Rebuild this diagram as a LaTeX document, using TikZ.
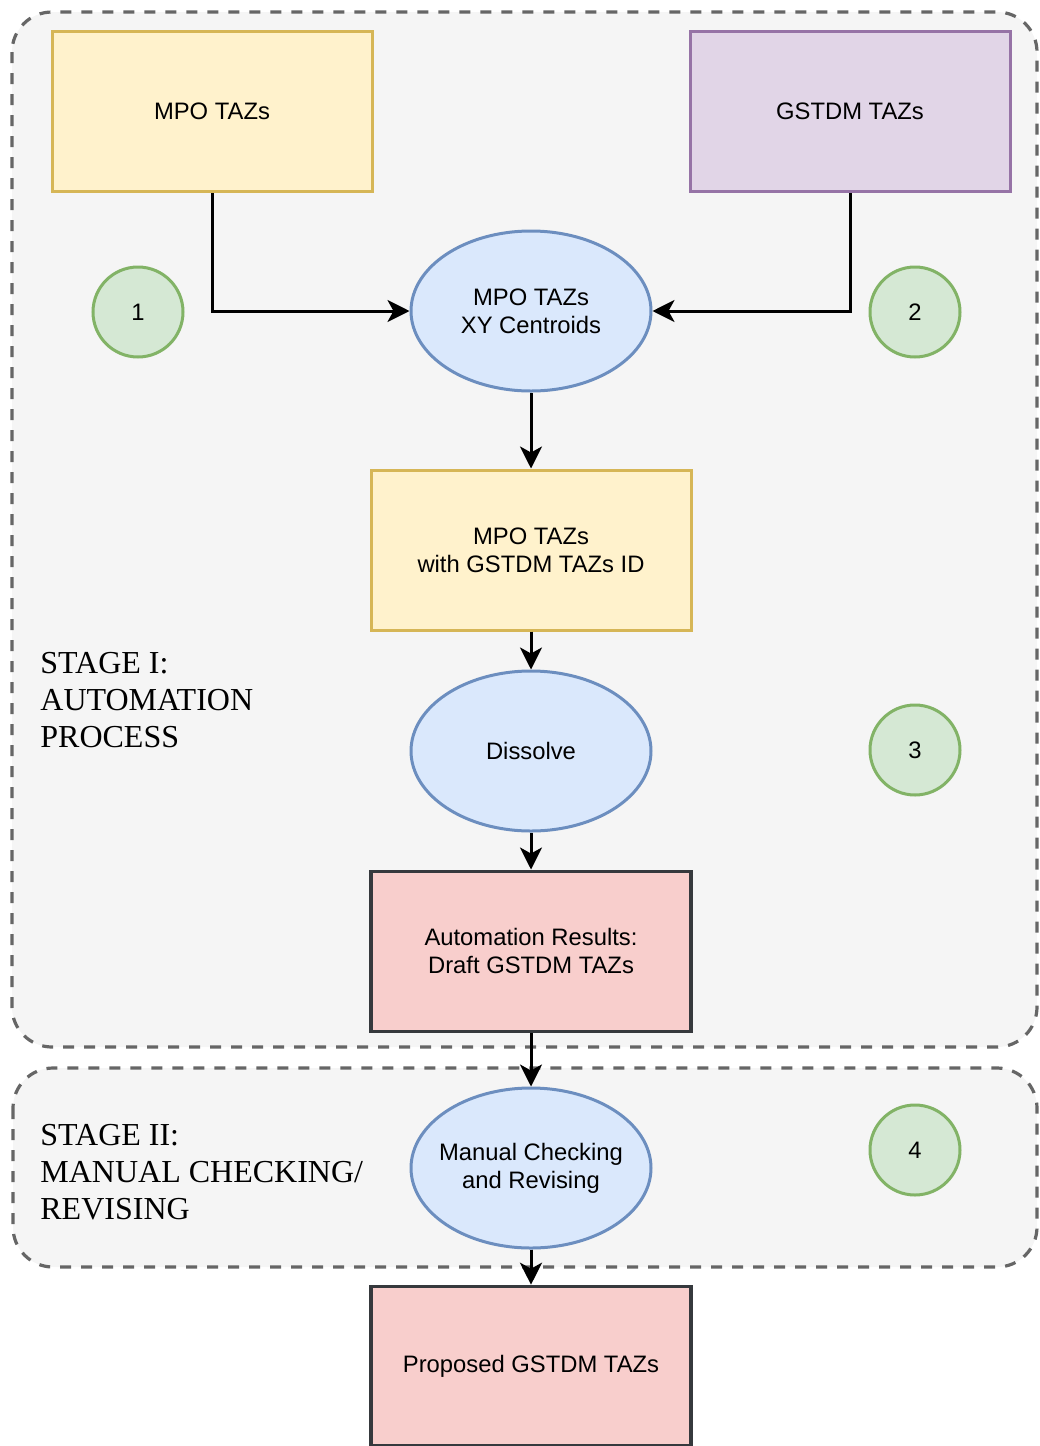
\documentclass[tikz,border=0pt]{standalone}
\usepackage{fontspec}
\setmainfont{Liberation Serif}
\setsansfont{Liberation Sans}
\usetikzlibrary{arrows.meta, positioning, shapes.geometric}

\definecolor{stagefill}{HTML}{F5F5F5}
\definecolor{stageline}{HTML}{666666}
\definecolor{mpofill}{HTML}{FFF2CC}
\definecolor{mpoline}{HTML}{D6B656}
\definecolor{gstdmfill}{HTML}{E1D5E7}
\definecolor{gstdmline}{HTML}{9673A6}
\definecolor{procfill}{HTML}{DAE8FC}
\definecolor{procline}{HTML}{6C8EBF}
\definecolor{numfill}{HTML}{D5E8D4}
\definecolor{numline}{HTML}{82B366}
\definecolor{resfill}{HTML}{F8CECC}
\definecolor{resline}{HTML}{36393D}

\begin{document}
\begin{tikzpicture}[x=0.5pt, y=-0.5pt]

  % Define styles
  \tikzstyle{stage_area} = [draw=stageline, fill=stagefill, line width=1.6pt, dash pattern=on 5.5pt off 5pt, rounded corners=20pt]
  \tikzstyle{stage_label} = [anchor=west, align=left, inner sep=0pt, font=\rmfamily\fontsize{16}{18.5}\selectfont]
  \tikzstyle{box} = [rectangle, draw, line width=1.5pt, minimum width=160pt, minimum height=80pt, align=center, font=\sffamily\fontsize{11.9}{14}\selectfont]
  \tikzstyle{mpo_box} = [box, draw=mpoline, fill=mpofill]
  \tikzstyle{gstdm_box} = [box, draw=gstdmline, fill=gstdmfill]
  \tikzstyle{res_box} = [box, draw=resline, fill=resfill, line width=1.8pt]
  \tikzstyle{proc} = [ellipse, draw=procline, fill=procfill, line width=1.5pt, minimum width=120pt, minimum height=80pt, inner xsep=-4pt, inner ysep=0pt, align=center, font=\sffamily\fontsize{11.9}{14}\selectfont]
  \tikzstyle{num_circle} = [circle, draw=numline, fill=numfill, line width=1.5pt, minimum size=45pt, inner sep=0pt, font=\sffamily\fontsize{11.9}{14}\selectfont]
  \tikzstyle{flow} = [-{Stealth[length=11pt, width=11pt, inset=3pt]}, line width=1.5pt]

  \useasboundingbox (0,0) rectangle (1039,1446);

  % Stage areas
  \path[stage_area] (12,12) rectangle (1037,1047);
  \path[stage_area] (13,1068) rectangle (1037,1267);

  \node[stage_label] (s1) at (40,700) {STAGE I:\\AUTOMATION\\PROCESS};
  \node[stage_label] (s2) at (40,1172) {STAGE II:\\MANUAL CHECKING/\\REVISING};

  % Inputs
  \node[mpo_box] (mpo) at (212,111.5) {MPO TAZs};
  \node[gstdm_box] (gstdm) at (850,111.5) {GSTDM TAZs};

  % Main column
  \node[proc] (cent) at (531,311) {MPO TAZs\\XY Centroids};
  \node[mpo_box] (joined) at (531,550) {MPO TAZs\\with GSTDM TAZs ID};
  \node[proc] (dissolve) [below=19pt of joined] {Dissolve};
  \node[res_box] (auto) [below=18.5pt of dissolve] {Automation Results:\\Draft GSTDM TAZs};
  \node[proc] (manual) at (531,1168) {Manual Checking\\and Revising};
  \node[res_box, minimum height=79.5pt] (proposed) at (531,1366) {Proposed GSTDM TAZs};

  % Step numbers
  \node[num_circle] (n1) at (138,312) {1};
  \node[num_circle] (n2) at (915,312) {2};
  \node[num_circle] (n3) at (915,750) {3};
  \node[num_circle] (n4) at (915,1150) {4};

  % Connections
  \draw[flow] (mpo.south) |- (cent.west);
  \draw[flow] (gstdm.south) |- (cent.east);
  \draw[flow] (cent) -- (joined);
  \draw[flow] (joined) -- (dissolve);
  \draw[flow] (dissolve) -- (auto);
  \draw[flow] (auto) -- (manual);
  \draw[flow] (manual) -- (proposed);

\end{tikzpicture}
\end{document}
